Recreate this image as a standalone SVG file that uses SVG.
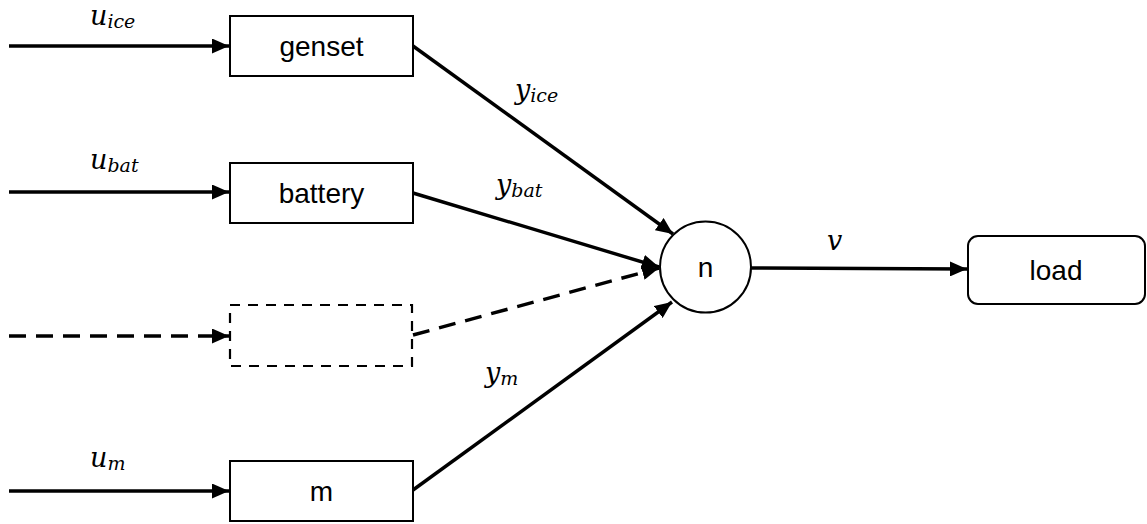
<svg xmlns="http://www.w3.org/2000/svg" width="1147" height="524" viewBox="0 0 1147 524">
  <style>
    .box { fill: #fff; stroke: #000; stroke-width: 2; }
    .dash { fill: #fff; stroke: #000; stroke-width: 2.2; stroke-dasharray: 10 8; }
    .lbl { font-family: "Liberation Sans", Arial, sans-serif; font-size: 28px; fill: #000; text-anchor: middle; dominant-baseline: central; }
    .math { font-family: "DejaVu Serif", "Liberation Serif", serif; font-style: italic; font-size: 27px; fill: #000; }
    .sub { font-size: 19px; }
    .wire { stroke: #000; stroke-width: 3.4; fill: none; marker-end: url(#arrow); }
    .wire-dash { stroke: #000; stroke-width: 3.4; fill: none; stroke-dasharray: 17 10; marker-end: url(#arrow); }
  </style>
  <defs>
    <marker id="arrow" markerUnits="userSpaceOnUse" markerWidth="18" markerHeight="15" refX="17" refY="7.5" orient="auto">
      <path d="M0,0 L17,7.5 L0,15 Z" fill="#000"/>
    </marker>
  </defs>
  <rect width="1147" height="524" fill="#fff"/>

  <g id="connectors">
    <line class="wire" x1="9" y1="46" x2="229" y2="46"/>
    <line class="wire" x1="9" y1="192" x2="229" y2="192"/>
    <line class="wire-dash" x1="9" y1="336" x2="229" y2="336"/>
    <line class="wire" x1="9" y1="491" x2="229" y2="491"/>
    <line class="wire" x1="413" y1="46" x2="673" y2="234"/>
    <line class="wire" x1="413" y1="193" x2="659" y2="267"/>
    <line class="wire-dash" x1="413" y1="335" x2="659" y2="268"/>
    <line class="wire" x1="413" y1="490" x2="672" y2="302"/>
    <line class="wire" x1="751" y1="268" x2="967" y2="269"/>
  </g>

  <g id="labels">
    <text class="math" x="90" y="25">u<tspan class="sub" dy="3">ice</tspan></text>
    <text class="math" x="90" y="169">u<tspan class="sub" dy="3">bat</tspan></text>
    <text class="math" x="90" y="467">u<tspan class="sub" dy="3">m</tspan></text>
    <text class="math" x="515" y="99">y<tspan class="sub" dy="3">ice</tspan></text>
    <text class="math" x="496" y="194">y<tspan class="sub" dy="3">bat</tspan></text>
    <text class="math" x="485" y="382">y<tspan class="sub" dy="3">m</tspan></text>
    <text class="math" x="827" y="250">v</text>
  </g>

  <g id="genset">
    <rect class="box" x="230" y="16" width="183" height="60"/>
    <text class="lbl" x="321.5" y="46">genset</text>
  </g>
  <g id="battery">
    <rect class="box" x="230" y="163" width="183" height="60"/>
    <text class="lbl" x="321.5" y="193">battery</text>
  </g>
  <g id="placeholder">
    <rect class="dash" x="230" y="305" width="182" height="61"/>
  </g>
  <g id="m">
    <rect class="box" x="230" y="461" width="183" height="60"/>
    <text class="lbl" x="321.5" y="491">m</text>
  </g>
  <g id="n">
    <circle class="box" cx="705.5" cy="267" r="45.5"/>
    <text class="lbl" x="705.5" y="267">n</text>
  </g>
  <g id="load">
    <rect class="box" x="968" y="236" width="177" height="68" rx="10" ry="10"/>
    <text class="lbl" x="1056" y="270">load</text>
  </g>
</svg>
